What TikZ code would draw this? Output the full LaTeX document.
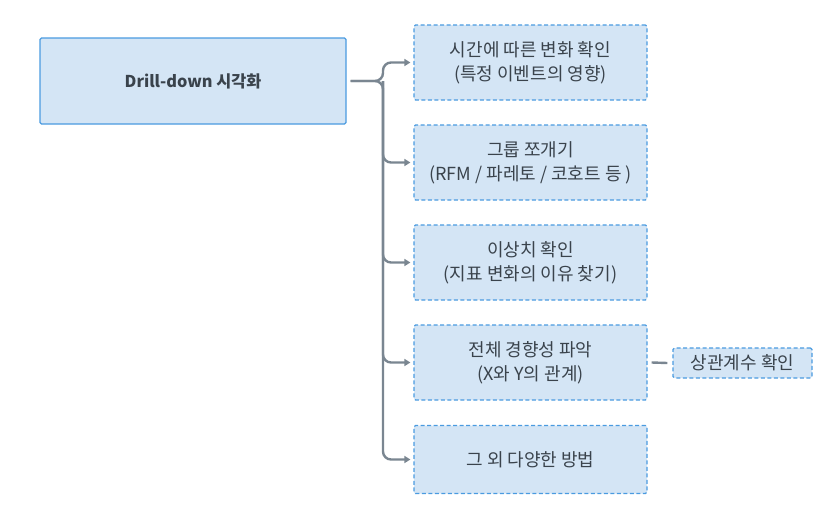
\documentclass[tikz,border=0pt]{standalone}
\usepackage{fontspec}
\setmainfont{Noto Sans CJK KR}
\usetikzlibrary{arrows.meta}
\definecolor{boxfill}{HTML}{D4E5F5}
\definecolor{boxline}{HTML}{4A9BE0}
\definecolor{conn}{HTML}{7A8691}
\definecolor{txt}{HTML}{3A434C}
\begin{document}
\begin{tikzpicture}[x=1pt,y=-1pt,
  mainbox/.style={draw=boxline,fill=boxfill,line width=1.2pt,rounded corners=1.5pt,minimum width=306pt,minimum height=86pt,font=\fontsize{16.3}{20}\selectfont\bfseries,text=txt,anchor=center},
  childbox/.style={draw=boxline,fill=boxfill,line width=1.2pt,dashed,dash pattern=on 4pt off 2.5pt,rounded corners=1.5pt,minimum width=233pt,minimum height=75pt,font=\fontsize{18}{24}\selectfont,text=txt,align=center,anchor=center},
  smallbox/.style={draw=boxline,fill=boxfill,line width=1.2pt,dashed,dash pattern=on 4pt off 2.5pt,rounded corners=1.5pt,minimum width=139pt,minimum height=30pt,font=\fontsize{18}{20}\selectfont,text=txt,anchor=center},
  link/.style={draw=conn,line width=2.4pt,rounded corners=8pt},
  arr/.style={link,-{Triangle[length=6pt,width=7pt]}}
]
\useasboundingbox (0,0) rectangle (838,522);
\node[mainbox] (m) at (193,81) {Drill-down 시각화};
\node[childbox] (c1) at (530.5,62.5) {시간에 따른 변화 확인\\(특정 이벤트의 영향)};
\node[childbox] (c2) at (530.5,162.5) {그룹 쪼개기\\(RFM / 파레토 / 코호트 등 )};
\node[childbox] (c3) at (530.5,262.5) {이상치 확인\\(지표 변화의 이유 찾기)};
\node[childbox] (c4) at (530.5,362.5) {전체 경향성 파악\\(X와 Y의 관계)};
\node[childbox,minimum height=68pt] (c5) at (530.5,459.5) {그 외 다양한 방법};
\node[smallbox] (s) at (742.5,363) {상관계수 확인};
\coordinate (j) at (383,81);
\draw[arr] ([xshift=4pt]m.east) -| (j |- c1.west) -- ([xshift=-3pt]c1.west);
\draw[arr] ([xshift=4pt]m.east) -| (j |- c5.west) -- ([xshift=-3pt]c5.west);
\draw[arr] (j) |- ([xshift=-3pt]c2.west);
\draw[arr] (j) |- ([xshift=-3pt]c3.west);
\draw[arr] (j) |- ([xshift=-3pt]c4.west);
\draw[link] ([xshift=4pt]c4.east) -- ([xshift=-5pt]s.west);
\end{tikzpicture}
\end{document}
